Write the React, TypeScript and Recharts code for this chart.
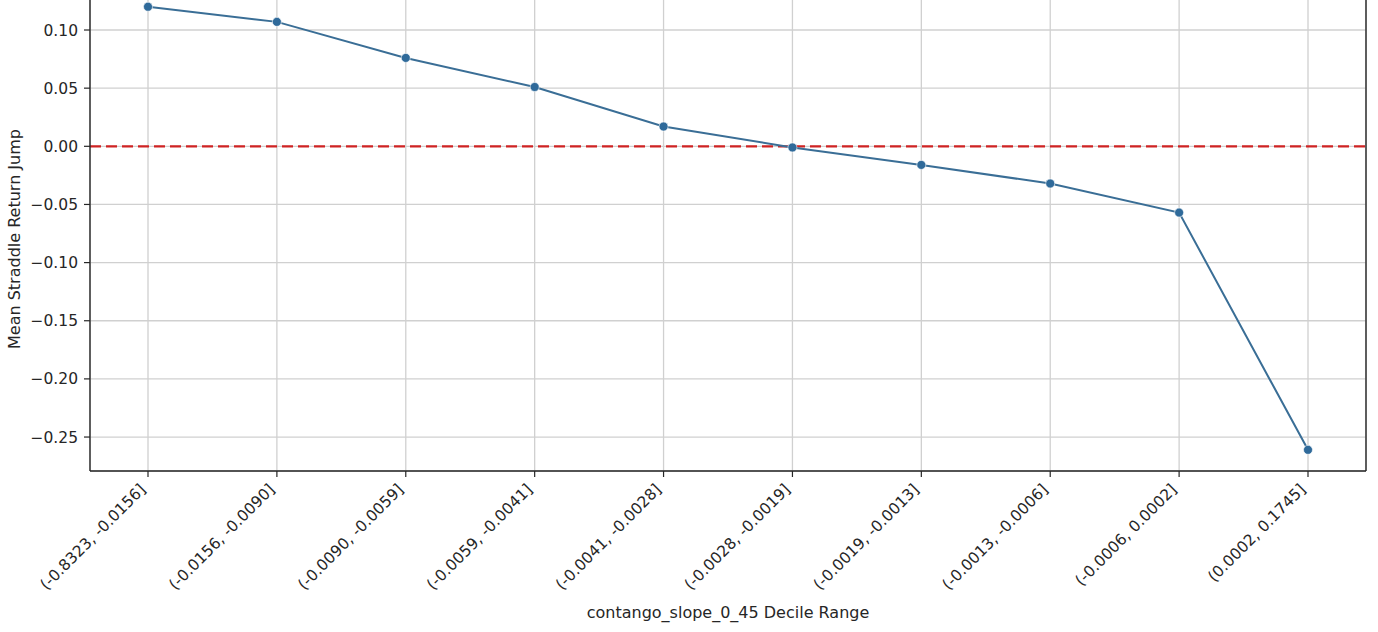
import { LineChart, Line, XAxis, YAxis, CartesianGrid, ReferenceLine, Label } from "recharts";

const decileRanges = [
  "(-0.8323, -0.0156]",
  "(-0.0156, -0.0090]",
  "(-0.0090, -0.0059]",
  "(-0.0059, -0.0041]",
  "(-0.0041, -0.0028]",
  "(-0.0028, -0.0019]",
  "(-0.0019, -0.0013]",
  "(-0.0013, -0.0006]",
  "(-0.0006, 0.0002]",
  "(0.0002, 0.1745]",
];

const meanJump = [0.12, 0.107, 0.076, 0.051, 0.017, -0.001, -0.016, -0.032, -0.057, -0.261];

const yTicks = [-0.25, -0.2, -0.15, -0.1, -0.05, 0, 0.05, 0.1];

const data = decileRanges.map((range, i) => ({ range, jump: meanJump[i] }));

const FONT = "'DejaVu Sans', sans-serif";
const INK = "#262626";
const FS = 16;

const fmtTick = (v: number) => {
  const s = Math.abs(v).toFixed(2);
  return v < 0 ? `\u2212${s}` : s;
};

function RotatedTick(props: any) {
  const { x, y, payload } = props;
  return (
    <g transform={`translate(${x - 5},${y + 8}) rotate(-45)`}>
      <text x={0} y={0} textAnchor="end" dominantBaseline="central" fontSize={FS - 0.5} fontFamily={FONT} fill={INK}>
        {payload.value}
      </text>
    </g>
  );
}

export default function App() {
  return (
    <div style={{ position: "absolute", left: 0, top: -15, width: 1378, height: 647, background: "#fff" }}>
      <LineChart width={1378} height={647} data={data} margin={{ top: 0, right: 11, bottom: 0, left: 0 }}>
        <CartesianGrid stroke="#d0d0d0" strokeWidth={1.3} />
        <XAxis
          dataKey="range"
          type="category"
          interval={0}
          height={161}
          padding={{ left: 58, right: 58 }}
          tick={<RotatedTick />}
          tickSize={6}
          tickLine={{ stroke: INK, strokeWidth: 1.2 }}
          axisLine={{ stroke: INK, strokeWidth: 1.4 }}
        >
          <Label
            content={() => (
              <text x={728} y={627} textAnchor="middle" dominantBaseline="central" fontSize={FS} fontFamily={FONT} fill={INK}>
                contango_slope_0_45 Decile Range
              </text>
            )}
          />
        </XAxis>
        <YAxis
          width={90}
          type="number"
          domain={[-0.2792, 0.1387]}
          ticks={yTicks}
          allowDataOverflow
          tickFormatter={fmtTick}
          tickSize={6}
          tickMargin={6}
          tick={{ fontSize: FS - 0.5, fontFamily: FONT, fill: INK }}
          tickLine={{ stroke: INK, strokeWidth: 1.2 }}
          axisLine={{ stroke: INK, strokeWidth: 1.4 }}
        >
          <Label
            content={() => (
              <text
                x={14}
                y={254}
                textAnchor="middle"
                dominantBaseline="central"
                transform="rotate(-90 14 254)"
                fontSize={FS}
                fontFamily={FONT}
                fill={INK}
              >
                Mean Straddle Return Jump
              </text>
            )}
          />
        </YAxis>
        <YAxis
          yAxisId="frame"
          orientation="right"
          type="number"
          domain={[0, 1]}
          width={1}
          tick={false}
          tickLine={false}
          axisLine={{ stroke: INK, strokeWidth: 1.4 }}
        />
        <ReferenceLine y={0} stroke="#cf2323" strokeWidth={2.2} strokeDasharray="11 5" />
        <Line
          type="linear"
          dataKey="jump"
          stroke="#3a6e96"
          strokeWidth={2}
          dot={{ r: 4.5, fill: "#2f6a9a", stroke: "#ffffff", strokeWidth: 0.6 }}
          activeDot={false}
          isAnimationActive={false}
        />
      </LineChart>
    </div>
  );
}
